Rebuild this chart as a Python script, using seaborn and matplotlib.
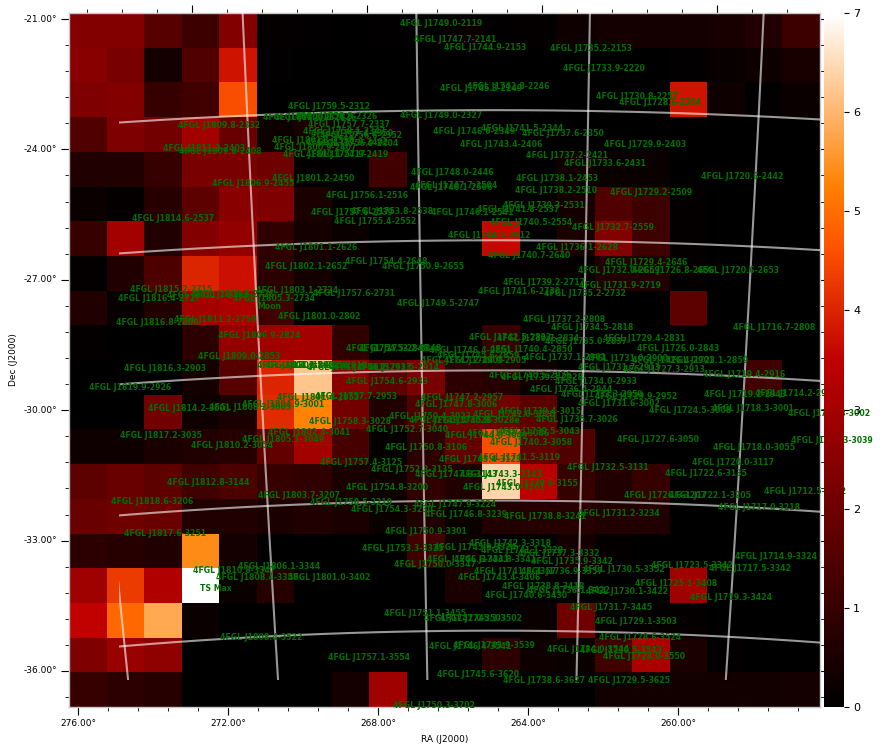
import re
import numpy as np
import matplotlib
matplotlib.use("Agg")
import matplotlib.pyplot as plt
from matplotlib.patches import Rectangle
import seaborn as sns

# TS map, 20 x 20 bins, top row first
ts_map = [
    [2.4, 2.4, 1.6, 1.1, 2.4, 0.1, 0.05, 0.02, 0.03, 0.05, 0.15, 0.03, 0.1, 0.3, 0.4, 0.4, 0.4, 0.45, 0.6, 1.1],
    [2.5, 2.2, 0.4, 1.5, 3.75, 0.05, 0, 0, 0, 0, 0, 0, 0, 0, 0, 0, 0.03, 0.15, 0.3, 0.45],
    [2.3, 2.4, 1.0, 1.2, 4.55, 0, 0, 0, 0, 0, 0, 0, 0, 0, 0, 0, 3.75, 0.25, 0.05, 0.2],
    [1.5, 2.3, 2.1, 3.0, 1.9, 0.3, 0.5, 0.35, 0.15, 0.05, 0, 0, 0, 0, 0, 0, 0, 0, 0, 0],
    [0.6, 0.6, 1.0, 2.2, 2.2, 2.0, 0.1, 0.05, 1.2, 0.02, 0, 0, 0, 0.35, 0.2, 0.2, 0, 0, 0, 0],
    [0.2, 0.1, 0.7, 1.7, 2.5, 2.3, 0.5, 0, 0, 0, 0, 0, 0, 0.4, 1.5, 1.1, 0.1, 0, 0, 0],
    [1.0, 3.0, 0.6, 2.4, 2.7, 0.9, 0.4, 0.2, 0, 0, 0, 3.6, 0, 0.5, 2.4, 1.1, 0.1, 0, 0, 0],
    [0.1, 0.6, 1.4, 4.0, 3.7, 0.8, 0.4, 0.1, 0, 0, 0, 0, 0.05, 0.1, 0.6, 0.6, 0.1, 0, 0, 0],
    [0.6, 0.15, 0.6, 3.0, 3.1, 1.2, 0, 0, 0, 0, 0, 0, 0, 0, 0, 0, 1.7, 0, 0, 0],
    [0.1, 0, 0, 0.8, 2.7, 2.9, 3.0, 0.9, 0, 0, 0, 1.0, 0, 0, 0, 0, 0, 0, 0, 0],
    [0, 0, 0, 0.4, 1.6, 4.0, 6.2, 2.5, 1.7, 2.2, 0.8, 0.7, 0.3, 0, 0, 0, 0, 0, 1.2, 0],
    [0, 0, 2.1, 0.3, 0.5, 4.1, 5.3, 2.1, 0.6, 1.5, 2.0, 2.1, 1.7, 0.1, 0, 0, 0, 0, 0, 0],
    [0.3, 0.3, 0.5, 0.6, 0.7, 1.8, 3.0, 1.3, 0.1, 0.8, 1.8, 4.55, 1.8, 1.5, 0.2, 0, 0, 0, 0, 0],
    [1.7, 1.9, 1.7, 1.2, 1.4, 1.0, 0.9, 0.5, 0.3, 0.9, 0.6, 6.4, 3.4, 1.0, 0.6, 1.0, 0, 0, 0, 0],
    [1.9, 2.0, 1.9, 0.6, 0.6, 0.5, 0.6, 0.5, 0.2, 0.6, 0.2, 0.6, 0.7, 0.7, 0.6, 0.6, 0, 0, 0, 0],
    [0.8, 0.7, 0.6, 5.4, 0.4, 0, 0, 0, 0, 1.2, 0.3, 0, 0, 0.4, 0.1, 0, 0, 0, 0, 0],
    [2.9, 4.3, 3.2, 7.0, 0.2, 0.7, 0, 0, 0, 0, 0.5, 0, 0, 0, 0, 0, 2.9, 0, 0, 0],
    [3.5, 4.9, 5.8, 0.2, 0, 0, 0, 0, 0, 0, 0, 0, 0.2, 2.0, 0.05, 0.1, 0.1, 0, 0, 0],
    [2.3, 2.8, 2.6, 0, 0, 0, 0, 0, 0, 0, 0, 0.8, 0.3, 0.2, 1.2, 3.1, 0.5, 0.05, 0, 0],
    [1.0, 0.8, 0.7, 0, 0, 0, 0, 0.4, 2.9, 0, 0, 0.02, 0, 0, 0.35, 0.35, 0.35, 0.35, 0.35, 0.4],
]

source_names = [
    "J1749.0-2119", "J1747.7-2141", "J1744.9-2153", "J1735.2-2153", "J1733.9-2220",
    "J1742.8-2246", "J1745.3-2249", "J1730.8-2257", "J1728.6-2304", "J1759.5-2312",
    "J1749.0-2327", "J1809.8-2332", "J1757.7-2337", "J1741.5-2344", "J1746.0-2349",
    "J1737.6-2350", "J1758.1-2347", "J1756.6-2352", "J1801.8-2326", "J1758.8-2326",
    "J1800.8-2326", "J1757.4-2350", "J1801.1-2358", "J1757.9-2402", "J1756.9-2404",
    "J1800.9-2407", "J1811.3-2403", "J1809.8-2408", "J1800.1-2417", "J1757.9-2419",
    "J1743.4-2406", "J1729.9-2403", "J1737.2-2421", "J1733.6-2431", "J1801.2-2450",
    "J1748.0-2446", "J1738.1-2453", "J1720.6-2442", "J1806.9-2455", "J1747.7-2504",
    "J1748.1-2506", "J1738.2-2510", "J1729.2-2509", "J1756.1-2516", "J1739.3-2531",
    "J1741.8-2537", "J1746.1-2541", "J1753.8-2538", "J1757.6-2539", "J1814.6-2537",
    "J1755.4-2552", "J1740.5-2554", "J1732.7-2559", "J1744.5-2612", "J1801.1-2626",
    "J1736.1-2628", "J1740.7-2640", "J1729.4-2646", "J1802.1-2652", "J1754.4-2648",
    "J1750.9-2655", "J1732.0-2659", "J1726.8-2656", "J1720.6-2653", "J1739.2-2717",
    "J1731.9-2719", "J1815.2-2715", "J1811.7-2726", "J1809.3-2726", "J1803.1-2724",
    "J1757.6-2731", "J1816.4-2727", "J1805.3-2734", "J1741.6-2730", "J1735.2-2732",
    "J1749.5-2747", "J1801.0-2802", "J1811.2-2759", "J1816.8-2800", "J1737.2-2808",
    "J1734.5-2818", "J1716.7-2808", "J1806.9-2824", "J1742.5-2833", "J1739.7-2834",
    "J1735.0-2837", "J1729.4-2831", "J1726.0-2843", "J1754.5-2848", "J1753.2-2848",
    "J1746.4-2851", "J1740.4-2850", "J1809.0-2853", "J1737.1-2901", "J1731.0-2900",
    "J1726.4-2901", "J1723.1-2859", "J1745.6-2859", "J1747.2-2905", "J1744.9-2905",
    "J1803.3-2908", "J1802.5-2908", "J1800.5-2910", "J1816.3-2903", "J1758.4-2913",
    "J1756.2-2913", "J1753.5-2914", "J1731.7-2913", "J1727.3-2913", "J1719.4-2916",
    "J1819.9-2926", "J1754.6-2933", "J1740.5-2926", "J1739.3-2928", "J1734.0-2933",
    "J1736.4-2944", "J1714.2-2938", "J1719.2-2943", "J1729.9-2952", "J1733.3-2950",
    "J1747.2-2957", "J1801.4-2953", "J1757.7-2953", "J1747.8-3006", "J1731.6-3002",
    "J1724.5-3008", "J1718.3-3001", "J1814.2-3001", "J1808.2-3003", "J1804.9-3001",
    "J1710.8-3002", "J1739.4-3015", "J1742.0-3020", "J1735.7-3026", "J1750.4-3023",
    "J1758.3-3028", "J1745.8-3028e", "J1748.4-3028", "J1752.7-3040", "J1802.4-3041",
    "J1739.5-3043", "J1744.8-3049", "J1742.6-3046", "J1740.3-3058", "J1727.6-3050",
    "J1718.0-3055", "J1817.2-3035", "J1805.1-3049", "J1810.2-3054", "J1710.3-3039",
    "J1750.8-3106", "J1720.0-3117", "J1757.4-3125", "J1741.5-3119", "J1745.4-3123",
    "J1732.5-3131", "J1752.3-3135", "J1722.6-3135", "J1747.8-3143", "J1743.3-3143",
    "J1812.8-3144", "J1739.6-3155", "J1712.5-3152", "J1754.8-3200", "J1743.0-3201",
    "J1726.6-3207", "J1722.1-3205", "J1803.7-3207", "J1818.6-3206", "J1758.5-3219",
    "J1747.9-3224", "J1717.0-3218", "J1754.3-3230", "J1746.8-3239", "J1738.8-3241",
    "J1731.2-3234", "J1817.6-3251", "J1750.9-3301", "J1742.3-3318", "J1745.9-3324",
    "J1741.1-3328", "J1737.3-3332", "J1753.3-3325", "J1735.9-3342", "J1746.6-3341",
    "J1743.8-3341", "J1750.0-3347", "J1806.1-3344", "J1810.8-3347", "J1808.4-3358",
    "J1801.0-3402", "J1743.4-3406", "J1741.8-3357", "J1736.9-3357", "J1730.5-3352",
    "J1723.5-3342", "J1717.5-3342", "J1714.9-3324", "J1725.1-3408", "J1738.8-3418",
    "J1736.1-3422", "J1730.1-3422", "J1740.6-3430", "J1719.3-3424", "J1731.7-3445",
    "J1751.1-3455", "J1745.3-3502", "J1747.0-3503", "J1729.1-3503", "J1808.4-3522",
    "J1728.6-3524", "J1743.9-3539", "J1746.4-3541", "J1734.0-3544", "J1730.5-3543",
    "J1728.0-3550", "J1757.1-3554", "J1745.6-3620", "J1738.6-3627", "J1729.5-3625",
    "J1750.3-3702",
]

moon_pos = (271.45, -27.75)
graticule_ra = [276.2, 272.2, 268.2, 264.2, 260.2]
graticule_dec = [-24, -27, -30, -33, -36]
bottom_ra = [276, 272, 268, 264, 260]
left_dec = [-21, -24, -27, -30, -33, -36]
cbar_ticks = [0, 1, 2, 3, 4, 5, 6, 7]

RA0, DEC0 = 266.4, -29.08
CELLS_X, CELLS_Y = 1.241, 1.25  # bins per degree on the sky


def project(ra, dec, col0=10.89, row0=10.0):
    # tangent-ish projection of the map, gives bin coordinates
    a = np.radians(np.asarray(ra, dtype=float) - RA0)
    d = np.radians(np.asarray(dec, dtype=float))
    d0 = np.radians(DEC0)
    cosc = np.sin(d0) * np.sin(d) + np.cos(d0) * np.cos(d) * np.cos(a)
    c = np.arccos(np.clip(cosc, -1, 1))
    k = np.where(c > 1e-6, c / np.maximum(np.sin(c), 1e-6), 1.0)
    xi = np.degrees(k * np.cos(d) * np.sin(a))
    eta = np.degrees(k * (np.cos(d0) * np.sin(d) - np.sin(d0) * np.cos(d) * np.cos(a)))
    return col0 - xi * CELLS_X, row0 - eta * CELLS_Y


def name_to_radec(name):
    m = re.match(r"J(\d\d)(\d\d\.\d)([+-])(\d\d)(\d\d)", name)
    ra = (int(m[1]) + float(m[2]) / 60) * 15
    dec = -(int(m[4]) + int(m[5]) / 60)
    return ra, dec


fig = plt.figure(figsize=(8.87, 7.49), dpi=100)
ax = fig.add_axes([69 / 887, 1 - 707 / 749, 751 / 887, 694 / 749])
cax = fig.add_axes([824 / 887, 1 - 707 / 749, 20 / 887, 694 / 749])

sns.heatmap(np.array(ts_map), cmap="gist_heat", vmin=0, vmax=7, ax=ax, cbar_ax=cax,
            xticklabels=False, yticklabels=False)
cax.set_yticks(cbar_ticks)
cax.tick_params(labelsize=8, length=3.6, width=0.8, pad=3)

# graticule sits offset from the image, cut off at its own box
clip = Rectangle((1.33, 0), 18.67, 19.22, transform=ax.transData)
gkw = dict(col0=11.33, row0=9.15)
for ra in graticule_ra:
    xs, ys = project(np.full(40, ra), np.linspace(-19, -38, 40), **gkw)
    line, = ax.plot(xs, ys, color="white", alpha=0.6, lw=1.5, zorder=3)
    line.set_clip_path(clip)
for dec in graticule_dec:
    xs, ys = project(np.linspace(250, 282, 50), np.full(50, dec), **gkw)
    line, = ax.plot(xs, ys, color="white", alpha=0.6, lw=1.5, zorder=3)
    line.set_clip_path(clip)
ax.set_xlim(0, 20)
ax.set_ylim(20, 0)

text_kw = dict(color="#007000", fontsize=5.6, fontweight="bold", ha="center", va="center",
               clip_on=False, zorder=4)
for name in source_names:
    ra, dec = name_to_radec(name)
    col, row = project(ra, dec)
    ax.text(float(col), float(row), "4FGL " + name, **text_kw)
col, row = project(*moon_pos)
ax.text(float(col), float(row), "Moon", **text_kw)
peak_row, peak_col = np.unravel_index(np.argmax(ts_map), (20, 20))
ax.text(peak_col + 0.9, peak_row + 0.58, "TS Max", **text_kw)

# axis ticks, each side has its own scale
def bottom_col(ra):
    return 0.24 + (276 - np.asarray(ra, dtype=float)) * 0.9987


def top_col(ra):
    return 3.28 + (276 - np.asarray(ra, dtype=float)) * 1.165


def dec_row(dec):
    return 0.173 + (-21 - np.asarray(dec, dtype=float)) * 1.2526


ax.set_xticks(bottom_col(bottom_ra))
ax.set_xticklabels(["%.2f°" % v for v in bottom_ra], rotation=0)
ax.set_xticks(bottom_col(np.arange(276.8, 256, -0.8)), minor=True)
ax.set_yticks(dec_row(left_dec))
ax.set_yticklabels(["%.2f°" % v for v in left_dec], rotation=0, va="center")
ax.set_yticks(dec_row(np.arange(-20.4, -37.2, -0.6)), minor=True)
ax.set_xlim(0, 20)
ax.set_ylim(20, 0)
ax.tick_params(which="major", labelsize=6.5, length=5.8, width=0.8, pad=3)
ax.tick_params(which="minor", length=3, width=0.6)
ax.set_xlabel("RA (J2000)", fontsize=6.5, labelpad=5)
ax.set_ylabel("Dec (J2000)", fontsize=6.5, labelpad=4)

top = ax.secondary_xaxis("top")
top.set_xticks(top_col([276, 272, 268, 264]), labels=[])
top.set_xticks(top_col(np.arange(278.4, 257, -0.8)), minor=True)
top.tick_params(which="major", length=5.8, width=0.8)
top.tick_params(which="minor", length=3, width=0.6)

right = ax.secondary_yaxis("right")
right.set_yticks(dec_row(left_dec), labels=[])
right.set_yticks(dec_row(np.arange(-20.4, -37.2, -0.6)), minor=True)
right.tick_params(which="major", length=3, width=0.8)
right.tick_params(which="minor", length=3, width=0.6)
for sec in (top, right):
    for s in sec.spines.values():
        s.set_visible(False)

for s in ax.spines.values():
    s.set_visible(True)
    s.set_color("#c8c8c8")
    s.set_linewidth(1.0)

fig.savefig("out.png", dpi=100)
